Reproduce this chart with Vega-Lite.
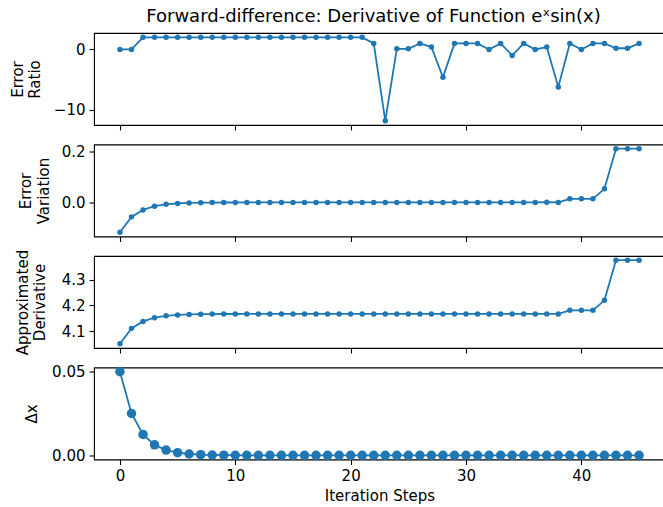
{
  "$schema": "https://vega.github.io/schema/vega-lite/v6.json",
  "autosize": {"type": "pad"},
  "padding": {"left": 9, "top": 7, "right": 0, "bottom": 0},
  "background": "white",
  "config": {
    "view": {"stroke": "black", "strokeWidth": 1.1},
    "font": "DejaVu Sans",
    "axis": {
      "domain": false, "grid": false, "tickColor": "black", "tickSize": 5, "tickWidth": 1.1,
      "labelColor": "black", "labelFont": "DejaVu Sans", "labelFontSize": 15, "labelPadding": 4,
      "titleColor": "black", "titleFont": "DejaVu Sans", "titleFontSize": 15, "titleFontWeight": "normal",
      "titleLineHeight": 17.6
    },
    "line": {"color": "#1f77b4", "strokeWidth": 1.8},
    "concat": {"spacing": 19.5}
  },
  "data": {"values": [
    {"step": 0, "ratio": 0, "variation": -0.116, "deriv": 4.0505, "dx": 0.05},
    {"step": 1, "ratio": 0, "variation": -0.056, "deriv": 4.1105, "dx": 0.025},
    {"step": 2, "ratio": 2, "variation": -0.029, "deriv": 4.1375, "dx": 0.0125},
    {"step": 3, "ratio": 2, "variation": -0.0145, "deriv": 4.152, "dx": 0.00625},
    {"step": 4, "ratio": 2, "variation": -0.0073, "deriv": 4.1592, "dx": 0.003125},
    {"step": 5, "ratio": 2, "variation": -0.0036, "deriv": 4.1629, "dx": 0.0015625},
    {"step": 6, "ratio": 2, "variation": -0.0018, "deriv": 4.1647, "dx": 0.00078},
    {"step": 7, "ratio": 2, "variation": -0.0009, "deriv": 4.1656, "dx": 0.00039},
    {"step": 8, "ratio": 2, "variation": -0.0005, "deriv": 4.166, "dx": 0.0002},
    {"step": 9, "ratio": 2, "variation": -0.0002, "deriv": 4.1663, "dx": 0.0001},
    {"step": 10, "ratio": 2, "variation": -0.0001, "deriv": 4.1664, "dx": 0.00005},
    {"step": 11, "ratio": 2, "variation": 0, "deriv": 4.1665, "dx": 0.000024},
    {"step": 12, "ratio": 2, "variation": 0, "deriv": 4.1665, "dx": 0.000012},
    {"step": 13, "ratio": 2, "variation": 0, "deriv": 4.1665, "dx": 0.000006},
    {"step": 14, "ratio": 2, "variation": 0, "deriv": 4.1665, "dx": 0.000003},
    {"step": 15, "ratio": 2, "variation": 0, "deriv": 4.1665, "dx": 0.0000015},
    {"step": 16, "ratio": 2, "variation": 0, "deriv": 4.1665, "dx": 0.0000008},
    {"step": 17, "ratio": 2, "variation": 0, "deriv": 4.1665, "dx": 0.0000004},
    {"step": 18, "ratio": 2, "variation": 0, "deriv": 4.1665, "dx": 0.0000002},
    {"step": 19, "ratio": 2, "variation": 0, "deriv": 4.1665, "dx": 0.0000001},
    {"step": 20, "ratio": 2, "variation": 0, "deriv": 4.1665, "dx": 0},
    {"step": 21, "ratio": 2, "variation": 0, "deriv": 4.1665, "dx": 0},
    {"step": 22, "ratio": 1, "variation": 0, "deriv": 4.1665, "dx": 0},
    {"step": 23, "ratio": -11.8, "variation": 0, "deriv": 4.1665, "dx": 0},
    {"step": 24, "ratio": 0.1, "variation": 0, "deriv": 4.1665, "dx": 0},
    {"step": 25, "ratio": 0.1, "variation": 0, "deriv": 4.1665, "dx": 0},
    {"step": 26, "ratio": 1, "variation": 0, "deriv": 4.1665, "dx": 0},
    {"step": 27, "ratio": 0.4, "variation": 0, "deriv": 4.1665, "dx": 0},
    {"step": 28, "ratio": -4.6, "variation": 0, "deriv": 4.1665, "dx": 0},
    {"step": 29, "ratio": 1, "variation": 0, "deriv": 4.1665, "dx": 0},
    {"step": 30, "ratio": 1, "variation": 0, "deriv": 4.1665, "dx": 0},
    {"step": 31, "ratio": 1, "variation": 0, "deriv": 4.1665, "dx": 0},
    {"step": 32, "ratio": 0, "variation": 0, "deriv": 4.1665, "dx": 0},
    {"step": 33, "ratio": 1, "variation": 0, "deriv": 4.1665, "dx": 0},
    {"step": 34, "ratio": -1, "variation": 0, "deriv": 4.1665, "dx": 0},
    {"step": 35, "ratio": 1, "variation": 0, "deriv": 4.1665, "dx": 0},
    {"step": 36, "ratio": 0, "variation": 0, "deriv": 4.1665, "dx": 0},
    {"step": 37, "ratio": 0.4, "variation": 0.001, "deriv": 4.1668, "dx": 0},
    {"step": 38, "ratio": -6.2, "variation": 0, "deriv": 4.1665, "dx": 0},
    {"step": 39, "ratio": 1, "variation": 0.014, "deriv": 4.1805, "dx": 0},
    {"step": 40, "ratio": 0, "variation": 0.014, "deriv": 4.1805, "dx": 0},
    {"step": 41, "ratio": 1, "variation": 0.014, "deriv": 4.1805, "dx": 0},
    {"step": 42, "ratio": 1, "variation": 0.053, "deriv": 4.2195, "dx": 0},
    {"step": 43, "ratio": 0.2, "variation": 0.209, "deriv": 4.3755, "dx": 0},
    {"step": 44, "ratio": 0.2, "variation": 0.209, "deriv": 4.3755, "dx": 0},
    {"step": 45, "ratio": 1, "variation": 0.209, "deriv": 4.3755, "dx": 0}
  ]},
  "bounds": "flush",
  "vconcat": [
    {
      "width": 571, "height": 92,
      "title": {"text": "Forward-difference: Derivative of Function  eˣsin(x)", "font": "DejaVu Sans", "fontSize": 18, "fontWeight": "normal", "color": "black", "anchor": "middle", "baseline": "alphabetic", "offset": -7, "dx": -6},
      "mark": {"type": "line", "point": {"size": 30, "filled": true, "color": "#1f77b4", "opacity": 1}},
      "encoding": {
        "x": {"field": "step", "type": "quantitative", "scale": {"domain": [-2.25, 47.25], "nice": false, "zero": false}, "axis": {"values": [0, 10, 20, 30, 40], "labels": false, "title": null}},
        "y": {"field": "ratio", "type": "quantitative", "scale": {"domain": [-12.49, 2.72], "nice": false, "zero": false}, "axis": {"values": [-10, 0], "format": "d", "title": ["Error", "Ratio"], "titleX": -71.8, "titleBaseline": "alphabetic"}}
      }
    },
    {
      "width": 571, "height": 92,
      "mark": {"type": "line", "point": {"size": 30, "filled": true, "color": "#1f77b4", "opacity": 1}},
      "encoding": {
        "x": {"field": "step", "type": "quantitative", "scale": {"domain": [-2.25, 47.25], "nice": false, "zero": false}, "axis": {"values": [0, 10, 20, 30, 40], "labels": false, "title": null}},
        "y": {"field": "variation", "type": "quantitative", "scale": {"domain": [-0.1323, 0.2253], "nice": false, "zero": false}, "axis": {"values": [0, 0.2], "format": ".1f", "title": ["Error", "Variation"], "titleX": -63.4, "titleBaseline": "alphabetic"}}
      }
    },
    {
      "width": 571, "height": 92,
      "mark": {"type": "line", "point": {"size": 30, "filled": true, "color": "#1f77b4", "opacity": 1}},
      "encoding": {
        "x": {"field": "step", "type": "quantitative", "scale": {"domain": [-2.25, 47.25], "nice": false, "zero": false}, "axis": {"values": [0, 10, 20, 30, 40], "labels": false, "title": null}},
        "y": {"field": "deriv", "type": "quantitative", "scale": {"domain": [4.0342, 4.3918], "nice": false, "zero": false}, "axis": {"values": [4.1, 4.2, 4.3], "format": ".1f", "title": ["Approximated", "Derivative"], "titleX": -66.6, "titleBaseline": "alphabetic"}}
      }
    },
    {
      "width": 571, "height": 92,
      "mark": {"type": "line", "point": {"size": 90, "filled": true, "color": "#1f77b4", "opacity": 1}},
      "encoding": {
        "x": {"field": "step", "type": "quantitative", "scale": {"domain": [-2.25, 47.25], "nice": false, "zero": false}, "axis": {"values": [0, 10, 20, 30, 40], "format": "d", "title": "Iteration Steps", "titlePadding": 5}},
        "y": {"field": "dx", "type": "quantitative", "scale": {"domain": [-0.0025, 0.0525], "nice": false, "zero": false}, "axis": {"values": [0, 0.05], "format": ".2f", "title": "Δx", "titleX": -57.5, "titleBaseline": "alphabetic"}}
      }
    }
  ]
}
